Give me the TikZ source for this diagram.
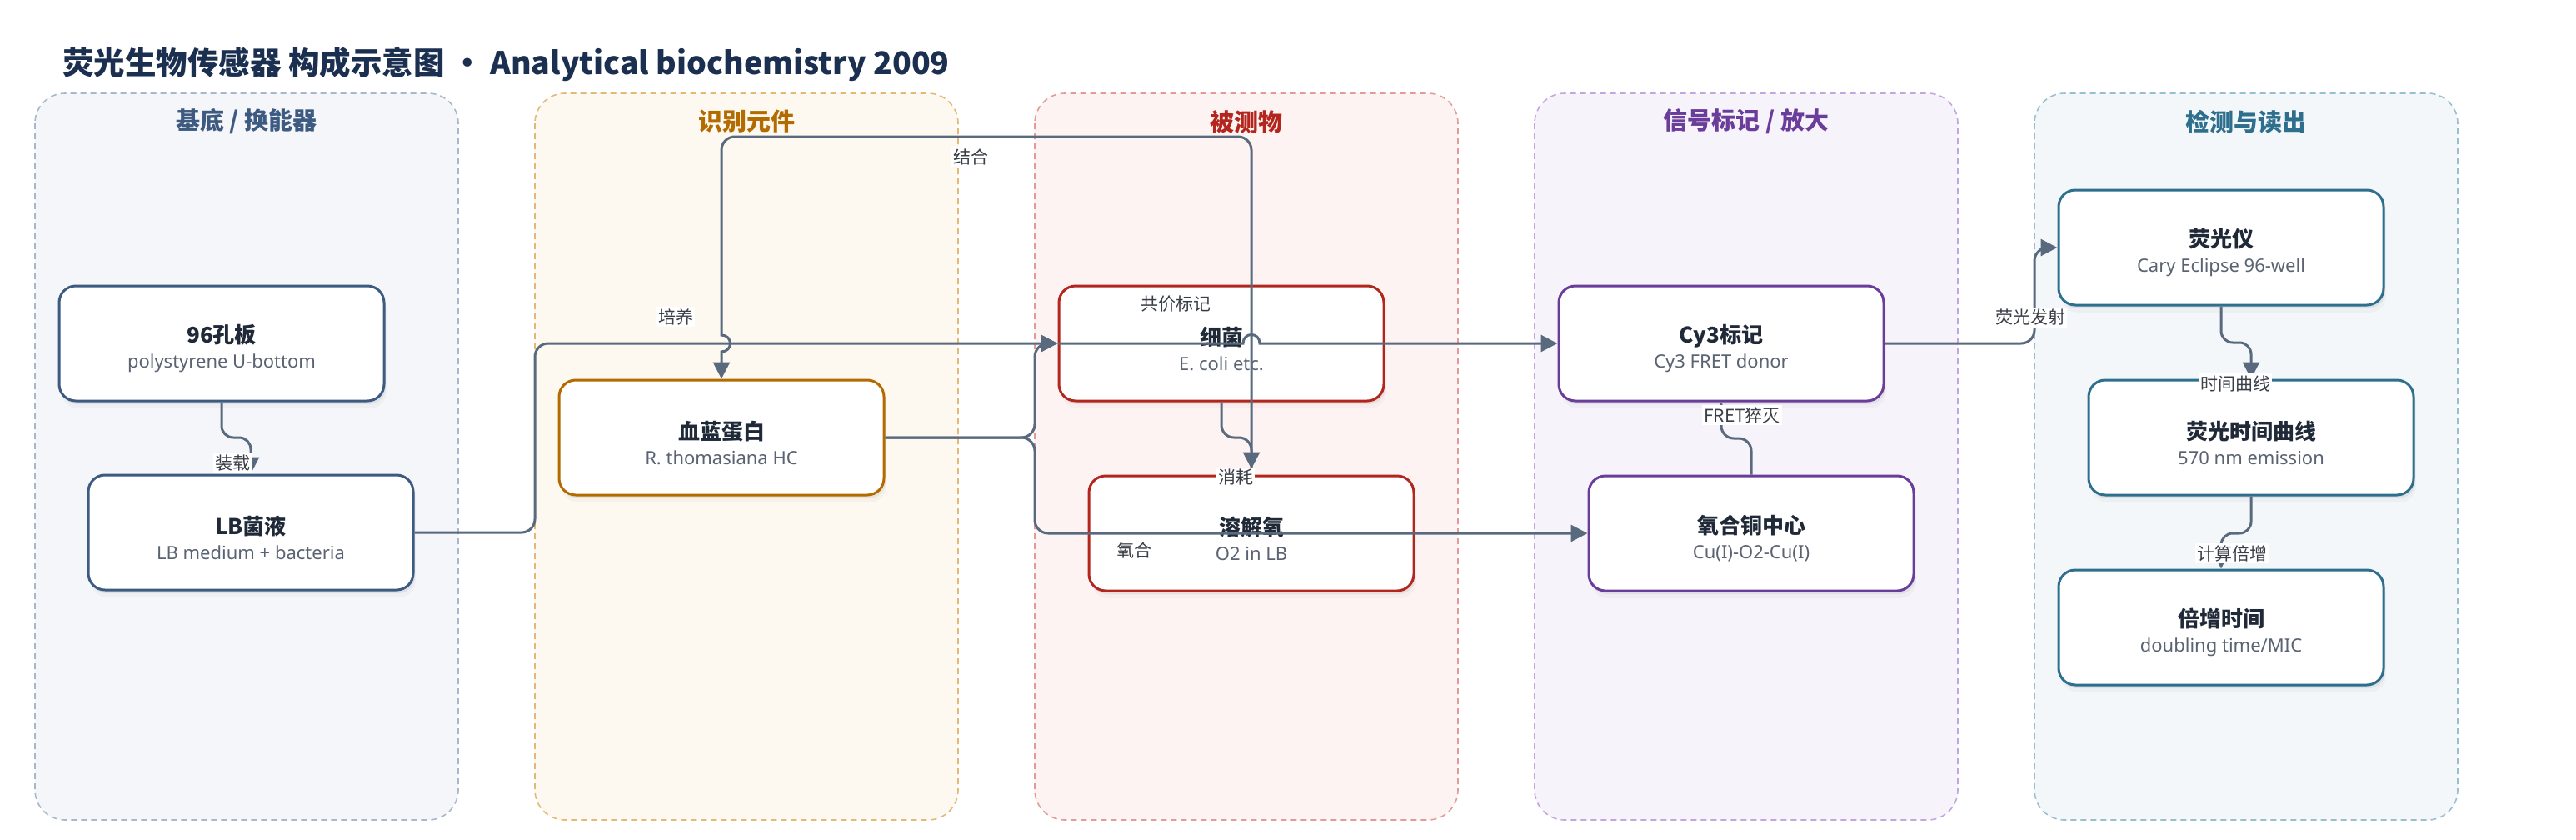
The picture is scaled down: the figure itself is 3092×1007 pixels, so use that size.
\documentclass[tikz,border=0pt]{standalone}
\usepackage{fontspec}
\setmainfont{Noto Sans CJK SC}
\newfontfamily\subf{Noto Sans}
\usetikzlibrary{arrows.meta,shadows}
\definecolor{titlec}{HTML}{1B3050}
\definecolor{ntext}{HTML}{1F2937}
\definecolor{nsub}{HTML}{5A6372}
\definecolor{edgec}{HTML}{5A6A7E}
\definecolor{labc}{HTML}{3A3F47}
\definecolor{laneAf}{HTML}{F4F6FA}\definecolor{laneAd}{HTML}{A8B8CC}\definecolor{laneAt}{HTML}{3D5A80}
\definecolor{laneBf}{HTML}{FDF8F0}\definecolor{laneBd}{HTML}{E2B977}\definecolor{laneBt}{HTML}{B36B00}
\definecolor{laneCf}{HTML}{FDF3F2}\definecolor{laneCd}{HTML}{E39B97}\definecolor{laneCt}{HTML}{B3261E}
\definecolor{laneDf}{HTML}{F6F3FB}\definecolor{laneDd}{HTML}{C3A6DE}\definecolor{laneDt}{HTML}{6A3D9A}
\definecolor{laneEf}{HTML}{F3F7F9}\definecolor{laneEd}{HTML}{97BFCF}\definecolor{laneEt}{HTML}{2E6F8E}
\newcommand\ntitle[1]{\rule{0pt}{35pt}{\fontsize{26}{30}\selectfont\bfseries\color{ntext}#1}}
\newcommand\nsubt[1]{{\subf\fontsize{22}{30}\selectfont\color{nsub}#1}}
\begin{document}
\begin{tikzpicture}[x=1pt,y=-1pt,
  lanebox/.style={fill=#1f, draw=#1d, line width=1.6pt, dash pattern=on 7pt off 5pt, rounded corners=36pt},
  lanetitle/.style={font=\fontsize{29}{32}\selectfont\bfseries, text=#1t, inner sep=0pt},
  nodebox/.style={draw=#1, fill=white, line width=3pt, rounded corners=20pt,
    minimum width=390pt, minimum height=138pt, align=center, inner sep=0pt,
    font=\fontsize{22}{30}\selectfont,
    drop shadow={shadow xshift=2pt,shadow yshift=-4pt,opacity=.12},
    drop shadow={shadow xshift=3pt,shadow yshift=-9pt,opacity=.05}},
  edge/.style={draw=edgec, line width=3pt, -{Triangle[length=20pt,width=20pt]}},
  elabel/.style={fill=white, inner sep=2pt, text=labc, font=\fontsize{21}{24}\selectfont}
]
\useasboundingbox (0,0) rectangle (3092,1007);
\fill[white] (0,0) rectangle (3092,1007);

\node[anchor=west, inner sep=0pt, text=titlec, font=\fontsize{37.5}{42}\selectfont\bfseries] (title) at (75,77)
  {荧光生物传感器 构成示意图 • Analytical biochemistry 2009};

% lanes
\draw[lanebox=laneA] (42,112) rectangle (550,984);
\draw[lanebox=laneB] (642,112) rectangle (1150,984);
\draw[lanebox=laneC] (1242,112) rectangle (1750,984);
\draw[lanebox=laneD] (1842,112) rectangle (2350,984);
\draw[lanebox=laneE] (2442,112) rectangle (2950,984);
\node[lanetitle=laneA] (tA) at (296,146) {基底 / 换能器};
\node[lanetitle=laneB] (tB) at (896,146) {识别元件};
\node[lanetitle=laneC] (tC) at (1496,146) {被测物};
\node[lanetitle=laneD] (tD) at (2096,146) {信号标记 / 放大};
\node[lanetitle=laneE] (tE) at (2696,146) {检测与读出};

% nodes
\node[nodebox=laneAt] (p96) at (266,412) {\ntitle{96孔板}\\\nsubt{polystyrene U-bottom}};
\node[nodebox=laneAt] (lb) at (301,639) {\ntitle{LB菌液}\\\nsubt{LB medium + bacteria}};
\node[nodebox=laneBt] (xuelan) at (866,525) {\ntitle{血蓝蛋白}\\\nsubt{R. thomasiana HC}};
\node[nodebox=laneCt] (xijun) at (1466,412) {\ntitle{细菌}\\\nsubt{E. coli etc.}};
\node[nodebox=laneCt] (rongjie) at (1502,640) {\ntitle{溶解氧}\\\nsubt{O2 in LB}};
\node[nodebox=laneDt] (cy3) at (2066,412) {\ntitle{Cy3标记}\\\nsubt{Cy3 FRET donor}};
\node[nodebox=laneDt] (yangtong) at (2102,640) {\ntitle{氧合铜中心}\\\nsubt{Cu(I)-O2-Cu(I)}};
\node[nodebox=laneEt] (yiqi) at (2666,297) {\ntitle{荧光仪}\\\nsubt{Cary Eclipse 96-well}};
\node[nodebox=laneEt] (curve) at (2702,525) {\ntitle{荧光时间曲线}\\\nsubt{570 nm emission}};
\node[nodebox=laneEt] (dbl) at (2666,753) {\ntitle{倍增时间}\\\nsubt{doubling time/MIC}};

% edges
\draw[edge, rounded corners=14pt] (p96.south) -- (266,525) -- (301,525) -- (lb.north);
\draw[edge, rounded corners=16pt] (lb.east) -- (642,639) -- (642,412) -- (xijun.west);
\draw[edge, rounded corners=16pt] (xuelan.east) -- (1242,525) -- (1242,412) -- (xijun.west);
\draw[edge, rounded corners=16pt] (xuelan.east) -- (1242,525) -- (1242,640) -- (yangtong.west);
\draw[edge] (rongjie.north) [rounded corners=16pt] -- (1502,164) -- (866,164) [sharp corners] -- (866,402)
  .. controls (880,402) and (880,422) .. (866,422) -- (xuelan.north);
\draw[edge, rounded corners=15pt, shorten >=7pt] (xijun.south) -- (1466,525) -- (1502,525) -- (rongjie.north);
\draw[edge] (xijun.west) -- (1492,412) .. controls (1492,398) and (1512,398) .. (1512,412) -- (cy3.west);
\draw[edge, rounded corners=15pt] (yangtong.north) -- (2102,526) -- (2066,526) -- (cy3.south);
\draw[edge, rounded corners=16pt] (cy3.east) -- (2442,412) -- (2442,297) -- (yiqi.west);
\draw[edge, rounded corners=14pt] (yiqi.south) -- (2666,411) -- (2702,411) -- (curve.north);
\draw[edge, rounded corners=14pt] (curve.south) -- (2702,640) -- (2666,640) -- (dbl.north);

% edge labels
\node[elabel] (l1) at (279,556) {装载};
\node[elabel] (l2) at (811,380) {培养};
\node[elabel] (l3) at (1165,188) {结合};
\node[elabel, fill=none] (l4) at (1411,365) {共价标记};
\node[elabel] (l5) at (1483,573) {消耗};
\node[elabel, fill=none] (l6) at (1361,660) {氧合};
\node[elabel] (l7) at (2091,498) {FRET猝灭};
\node[elabel] (l8) at (2437,381) {荧光发射};
\node[elabel] (l9) at (2683,460) {时间曲线};
\node[elabel] (l10) at (2679,664) {计算倍增};
\end{tikzpicture}
\end{document}
